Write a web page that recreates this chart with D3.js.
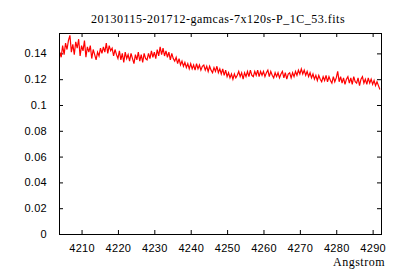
<!DOCTYPE html>
<html>
<head>
<meta charset="utf-8">
<script src="https://cdn.jsdelivr.net/npm/d3@7"></script>
<style>
  body { margin: 0; background: #fff; }
  .axis text { font-family: "Liberation Sans", Arial, sans-serif; font-size: 11px; letter-spacing: 0.3px; fill: #000; }
  .axis line { stroke: #000; }
  .axis path { display: none; }
  .lbl { font-family: "Liberation Serif", "Times New Roman", serif; font-size: 12px; letter-spacing: 0.5px; fill: #000; }
</style>
</head>
<body>
<div id="chart"></div>
<script>
// spectrum sampled every 0.4 A starting at 4204.0 A
var waveStart = 4204.0, waveStep = 0.4;
var flux = [
  0.141, 0.137, 0.146, 0.139, 0.148, 0.143, 0.150, 0.154, 0.141, 0.147,
  0.139, 0.149, 0.144, 0.151, 0.138, 0.146, 0.142, 0.150, 0.137, 0.145,
  0.141, 0.146, 0.136, 0.143, 0.139, 0.135, 0.141, 0.138, 0.144, 0.140,
  0.145, 0.141, 0.148, 0.140, 0.146, 0.142, 0.144, 0.138, 0.143, 0.139,
  0.136, 0.142, 0.135, 0.140, 0.133, 0.141, 0.136, 0.139, 0.134, 0.140,
  0.136, 0.132, 0.139, 0.135, 0.141, 0.134, 0.139, 0.133, 0.140, 0.136,
  0.135, 0.140, 0.136, 0.142, 0.137, 0.141, 0.136, 0.143, 0.138, 0.145,
  0.139, 0.144, 0.138, 0.142, 0.137, 0.141, 0.135, 0.140, 0.136, 0.134,
  0.137, 0.132, 0.136, 0.131, 0.134, 0.130, 0.133, 0.129, 0.132, 0.128,
  0.132, 0.128, 0.131, 0.127, 0.132, 0.128, 0.131, 0.127, 0.130, 0.131,
  0.127, 0.130, 0.126, 0.130, 0.127, 0.125, 0.129, 0.126, 0.130, 0.125,
  0.128, 0.124, 0.128, 0.123, 0.127, 0.122, 0.125, 0.121, 0.124, 0.120,
  0.124, 0.121, 0.123, 0.126, 0.122, 0.125, 0.120, 0.125, 0.122, 0.126,
  0.122, 0.127, 0.123, 0.122, 0.126, 0.123, 0.127, 0.122, 0.126, 0.123,
  0.126, 0.122, 0.125, 0.127, 0.122, 0.126, 0.123, 0.121, 0.125, 0.122,
  0.125, 0.121, 0.124, 0.126, 0.121, 0.125, 0.120, 0.124, 0.125, 0.121,
  0.125, 0.122, 0.126, 0.123, 0.127, 0.124, 0.128, 0.124, 0.127, 0.123,
  0.126, 0.122, 0.125, 0.121, 0.124, 0.120, 0.123, 0.119, 0.123, 0.120,
  0.118, 0.122, 0.119, 0.123, 0.118, 0.122, 0.119, 0.117, 0.122, 0.118,
  0.121, 0.126, 0.118, 0.122, 0.117, 0.121, 0.116, 0.120, 0.122, 0.117,
  0.121, 0.116, 0.122, 0.118, 0.117, 0.121, 0.115, 0.120, 0.122, 0.117,
  0.120, 0.116, 0.121, 0.117, 0.120, 0.116, 0.119, 0.115, 0.118, 0.115,
  0.112
];
var xTicks = [4210, 4220, 4230, 4240, 4250, 4260, 4270, 4280, 4290];
var yTicks = [0, 0.02, 0.04, 0.06, 0.08, 0.1, 0.12, 0.14];
var title = "20130115-201712-gamcas-7x120s-P_1C_53.fits";
var xLabel = "Angstrom";

var data = flux.map(function(f, i) { return {w: waveStart + i * waveStep, f: f}; });

var svg = d3.select("#chart").append("svg").attr("width", 400).attr("height", 280),
    margin = {top: 33, right: 19, bottom: 46, left: 59},
    width = 400 - margin.left - margin.right,
    height = 280 - margin.top - margin.bottom,
    g = svg.append("g").attr("transform", "translate(" + margin.left + "," + margin.top + ")");

var x = d3.scaleLinear().domain([4203.8, 4292.3]).range([0, width]);
var y = d3.scaleLinear().domain([0, 0.1558]).range([height, 0]);

function yfmt(d) { return d === 0 ? "0" : String(+d.toFixed(2)); }

g.append("g").attr("class", "axis")
    .attr("transform", "translate(0," + height + ")")
    .call(d3.axisBottom(x).tickValues(xTicks).tickFormat(d3.format("d")).tickSizeInner(-4).tickSizeOuter(0).tickPadding(10));
g.append("g").attr("class", "axis")
    .call(d3.axisTop(x).tickValues(xTicks).tickFormat("").tickSizeInner(-4).tickSizeOuter(0));
g.append("g").attr("class", "axis")
    .call(d3.axisLeft(y).tickValues(yTicks).tickFormat(yfmt).tickSizeInner(-4).tickSizeOuter(0).tickPadding(12));
g.append("g").attr("class", "axis")
    .attr("transform", "translate(" + width + ",0)")
    .call(d3.axisRight(y).tickValues(yTicks).tickFormat("").tickSizeInner(-4).tickSizeOuter(0));

var line = d3.line().x(function(d) { return x(d.w); }).y(function(d) { return y(d.f); });

g.append("path")
    .datum(data)
    .attr("fill", "none")
    .attr("stroke", "#ff0000")
    .attr("stroke-width", 1.2)
    .attr("d", line);

g.append("rect")
    .attr("x", 0.5).attr("y", 0.5)
    .attr("width", width).attr("height", height)
    .attr("fill", "none").attr("stroke", "#000").attr("stroke-width", 1);

svg.append("text").attr("class", "lbl")
    .attr("x", 218).attr("y", 23)
    .attr("text-anchor", "middle")
    .text(title);

svg.append("text").attr("class", "lbl")
    .attr("x", 385).attr("y", 266)
    .attr("text-anchor", "end")
    .text(xLabel);
</script>
</body>
</html>
